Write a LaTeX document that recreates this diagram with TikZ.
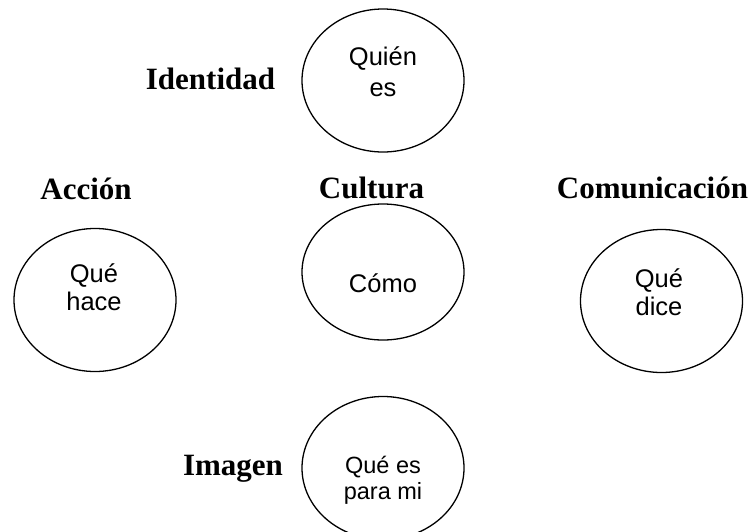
\documentclass[tikz,border=0pt]{standalone}
\usepackage{fontspec}
\setmainfont{Liberation Serif}
\setsansfont{Liberation Sans}
\usetikzlibrary{shapes.geometric}
\tikzset{
  bubble/.style={draw, ellipse, line width=1.3pt, minimum width=162pt, minimum height=143pt, inner sep=0pt},
  lbl/.style={font=\fontsize{31}{36}\selectfont\bfseries, anchor=base, inner sep=0pt},
  txt/.style={font=\sffamily\fontsize{25.5}{30}\selectfont, anchor=base, inner sep=0pt},
  txts/.style={font=\sffamily\fontsize{23.5}{27}\selectfont, anchor=base, inner sep=0pt}
}
\begin{document}
\begin{tikzpicture}[x=1pt, y=-1pt]
\useasboundingbox (0,0) rectangle (753,531);
% ellipses
\node[bubble] (eTop) at (383,80.5) {};
\node[bubble, minimum height=136pt] (eMid) at (383,272) {};
\node[bubble] (eLeft) at (95,300) {};
\node[bubble] (eRight) at (661.5,301) {};
\node[bubble] (eBot) at (383,468) {};
% labels
\node[lbl] (lIdent) at (210.5,89) {Identidad};
\node[lbl] (lAccion) at (86,199) {Acción};
\node[lbl] (lCultura) at (371.5,198) {Cultura};
\node[lbl] (lComun) at (652.5,198) {Comunicación};
\node[lbl] (lImagen) at (233,475) {Imagen};
% texts inside
\node[txt] (tTop1) at (383,65) {Quién};
\node[txt] (tTop2) at (383,96) {es};
\node[txt] (tMid) at (383,292) {Cómo};
\node[txt] (tLeft1) at (94,282) {Qué};
\node[txt] (tLeft2) at (94,310) {hace};
\node[txt] (tRight1) at (659,287) {Qué};
\node[txt] (tRight2) at (659,315) {dice};
\node[txts] (tBot1) at (383,473) {Qué es};
\node[txts] (tBot2) at (383,499) {para mi};
\end{tikzpicture}
\end{document}
